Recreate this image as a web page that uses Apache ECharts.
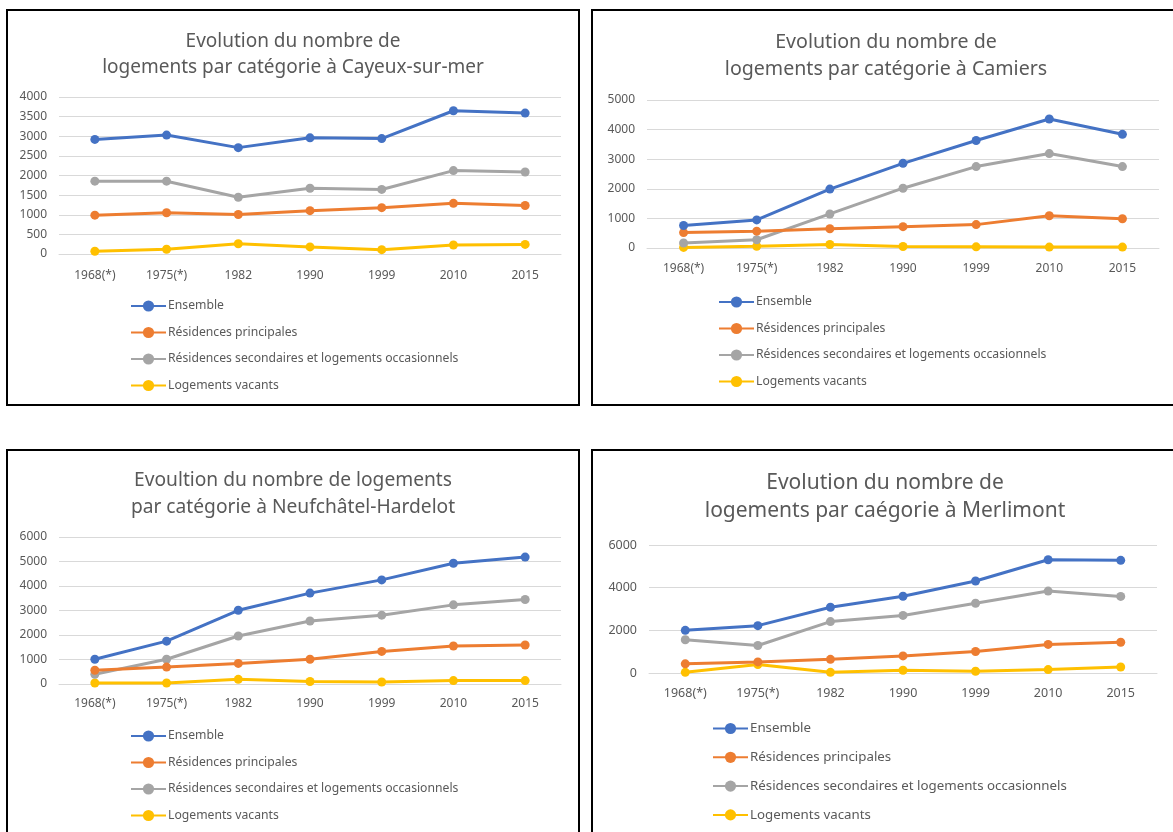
<!DOCTYPE html>
<html>
<head>
<meta charset="utf-8">
<script src="https://cdn.jsdelivr.net/npm/echarts@6/dist/echarts.min.js"></script>
<style>
html,body{margin:0;padding:0;background:#fff;}
#c{width:1173px;height:832px;}
</style>
</head>
<body>
<div id="c"></div>
<script>
const categories = ['1968(*)','1975(*)','1982','1990','1999','2010','2015'];
const seriesNames = ['Ensemble','Résidences principales','Résidences secondaires et logements occasionnels','Logements vacants'];
const colors = ['#4472C4','#ED7D31','#A5A5A5','#FFC000'];

// Cayeux-sur-mer
const cayeuxEnsemble = [2920,3030,2710,2960,2940,3650,3590];
const cayeuxPrincipales = [990,1050,1005,1105,1180,1290,1235];
const cayeuxSecondaires = [1855,1855,1445,1675,1645,2125,2090];
const cayeuxVacants = [70,120,260,180,110,230,245];

// Camiers
const camiersEnsemble = [760,950,1990,2860,3630,4360,3840];
const camiersPrincipales = [520,570,650,720,790,1090,990];
const camiersSecondaires = [170,280,1150,2020,2750,3190,2750];
const camiersVacants = [20,60,120,50,40,30,30];

// Neufchâtel-Hardelot
const neufEnsemble = [1010,1750,3010,3710,4250,4930,5180];
const neufPrincipales = [560,690,840,1010,1330,1550,1590];
const neufSecondaires = [400,1010,1960,2570,2810,3230,3450];
const neufVacants = [40,40,190,100,80,140,140];

// Merlimont
const merlEnsemble = [2000,2220,3080,3600,4310,5310,5280];
const merlPrincipales = [430,520,640,800,1010,1340,1440];
const merlSecondaires = [1560,1290,2410,2700,3270,3840,3590];
const merlVacants = [30,400,30,130,80,160,280];

const titles = [
  'Evolution du nombre de\nlogements par catégorie à Cayeux-sur-mer',
  'Evolution du nombre de\nlogements par catégorie à Camiers',
  'Evoultion du nombre de logements\npar catégorie à Neufchâtel-Hardelot',
  'Evolution du nombre de\nlogements par caégorie à Merlimont'
];
const yMax = [4000,5000,6000,6000];
const yStep = [500,1000,1000,2000];
const panelData = [
  [cayeuxEnsemble,cayeuxPrincipales,cayeuxSecondaires,cayeuxVacants],
  [camiersEnsemble,camiersPrincipales,camiersSecondaires,camiersVacants],
  [neufEnsemble,neufPrincipales,neufSecondaires,neufVacants],
  [merlEnsemble,merlPrincipales,merlSecondaires,merlVacants]
];

// layout (pixels)
const FONT = 'Noto Sans';
const TXT = '#595959';
const layout = [
  {grid:{left:59,top:97,width:502,height:157}, titleX:293, titleY:29, titleLH:26, titleSize:19, legend:{left:130,top:300,gap:14.5}, legendSize:12.2, axisSize:12, xMargin:16},
  {grid:{left:647,top:100,width:512,height:148}, titleX:886, titleY:29, titleLH:27, titleSize:19.6, legend:{left:718,top:296,gap:14.5}, legendSize:12.2, axisSize:12, xMargin:15},
  {grid:{left:59,top:537,width:502,height:147}, titleX:293, titleY:467, titleLH:27, titleSize:19.2, legend:{left:130,top:730,gap:14.5}, legendSize:12.2, axisSize:12, xMargin:14},
  {grid:{left:649,top:545,width:508,height:128}, titleX:885, titleY:469, titleLH:28, titleSize:21, legend:{left:712,top:722,gap:15.8}, legendSize:13.3, axisSize:12.5, xMargin:14}
];

const option = {
  animation:false,
  backgroundColor:'#fff',
  textStyle:{fontFamily:FONT},
  title:[], grid:[], xAxis:[], yAxis:[], legend:[], series:[],
  graphic:[
    {type:'rect', shape:{x:7,y:10,width:572,height:395}, style:{fill:'none',stroke:'#000',lineWidth:2}},
    {type:'rect', shape:{x:592,y:10,width:600,height:395}, style:{fill:'none',stroke:'#000',lineWidth:2}},
    {type:'rect', shape:{x:7,y:450,width:572,height:400}, style:{fill:'none',stroke:'#000',lineWidth:2}},
    {type:'rect', shape:{x:592,y:450,width:600,height:400}, style:{fill:'none',stroke:'#000',lineWidth:2}}
  ]
};

layout.forEach((L,i)=>{
  option.title.push({
    text:titles[i], left:L.titleX, top:L.titleY, textAlign:'center', padding:0,
    textStyle:{fontFamily:FONT,fontSize:L.titleSize,fontWeight:'normal',color:TXT,lineHeight:L.titleLH}
  });
  option.grid.push(Object.assign({containLabel:false}, L.grid));
  option.xAxis.push({
    type:'category', gridIndex:i, data:categories, boundaryGap:true,
    axisLine:{lineStyle:{color:'#D9D9D9',width:1}}, axisTick:{show:false},
    axisLabel:{color:TXT,fontSize:L.axisSize,fontFamily:FONT,margin:L.xMargin}
  });
  option.yAxis.push({
    type:'value', gridIndex:i, min:0, max:yMax[i], interval:yStep[i],
    axisLine:{show:false}, axisTick:{show:false},
    splitLine:{lineStyle:{color:'#D9D9D9',width:1}},
    axisLabel:{color:TXT,fontSize:L.axisSize,fontFamily:FONT,margin:12,formatter:v=>String(v)}
  });
  option.legend.push({
    orient:'vertical', left:L.legend.left, top:L.legend.top, itemGap:L.legend.gap,
    itemWidth:35, itemHeight:14, padding:0,
    data:seriesNames,
    textStyle:{color:TXT,fontSize:L.legendSize,fontFamily:FONT,padding:[0,0,0,-3]}
  });
  panelData[i].forEach((vals,k)=>{
    option.series.push({
      type:'line', name:seriesNames[k], xAxisIndex:i, yAxisIndex:i, data:vals,
      color:colors[k], symbol:'circle', symbolSize:9,
      lineStyle:{width:3,color:colors[k]}, itemStyle:{color:colors[k]}, z:10-k
    });
  });
});

const chart = echarts.init(document.getElementById('c'), null, {renderer:'canvas'});
chart.setOption(option);
</script>
</body>
</html>
